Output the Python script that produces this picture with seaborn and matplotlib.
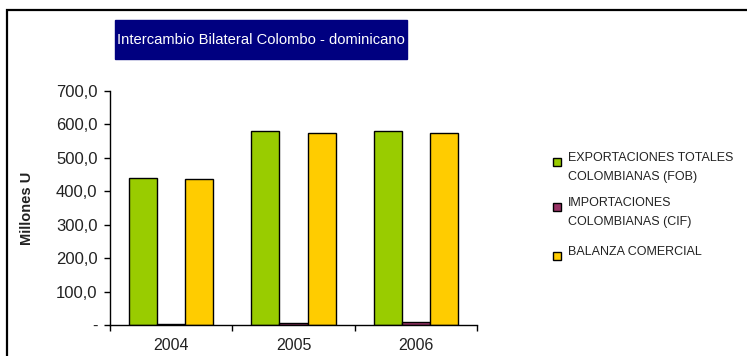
import matplotlib
matplotlib.use("Agg")
import matplotlib.pyplot as plt
from matplotlib.patches import Rectangle
import pandas as pd
import seaborn as sns

years = ["2004", "2005", "2006"]
series = [
    "EXPORTACIONES TOTALES\nCOLOMBIANAS (FOB)",
    "IMPORTACIONES\nCOLOMBIANAS (CIF)",
    "BALANZA COMERCIAL",
]
exportaciones = [440.5, 580.0, 580.0]
importaciones = [4.0, 5.0, 9.5]
balanza = [436.5, 575.0, 575.0]
colors = ["#99CC00", "#993366", "#FFCC00"]
yticks = [0, 100, 200, 300, 400, 500, 600, 700]
ytick_labels = ["-", "100,0", "200,0", "300,0", "400,0", "500,0", "600,0", "700,0"]

df = pd.DataFrame({
    "year": years * 3,
    "serie": [series[0]] * 3 + [series[1]] * 3 + [series[2]] * 3,
    "valor": exportaciones + importaciones + balanza,
})

sns.set_theme(style="white")
plt.rcParams["font.family"] = ["Liberation Sans", "DejaVu Sans"]

W, H = 747, 356
fig = plt.figure(figsize=(W / 100, H / 100), dpi=100)
ax = fig.add_axes([110 / W, 1 - 325 / H, (477 - 110) / W, (325 - 91) / H])

sns.barplot(data=df, x="year", y="valor", hue="serie", hue_order=series,
            palette=colors, width=0.69, edgecolor="black", linewidth=1.0,
            saturation=1, legend=False, ax=ax)

ax.set_ylim(0, 700)
ax.set_xlim(-0.5, 2.5)
ax.set_yticks(yticks)
ax.set_yticklabels(ytick_labels, fontsize=12, color="#222222")
ax.set_xticks(range(len(years)))
ax.set_xticklabels(years, fontsize=11.5, color="#222222")
ax.set_xticks([-0.5, 0.5, 1.5, 2.5], minor=True)
ax.tick_params(axis="x", which="major", length=0, pad=9)
ax.tick_params(axis="x", which="minor", length=4, width=1, color="black", direction="out", bottom=True)
ax.tick_params(axis="y", length=4, width=1, color="black", direction="out", left=True, pad=5)
ax.set_xlabel("")
ax.set_ylabel("")
for s in ["top", "right"]:
    ax.spines[s].set_visible(False)
for s in ["left", "bottom"]:
    ax.spines[s].set_color("black")
    ax.spines[s].set_linewidth(1.0)

fig.text(27 / W, 1 - 208 / H, "Millones U", rotation=90, ha="center", va="center",
         fontsize=10.5, fontweight="bold", color="#222222")

# outer frame, running off the right and bottom edges
fig.add_artist(Rectangle((7 / W, -0.2), 1.5, 0.2 + (1 - 10 / H),
                         transform=fig.transFigure, fill=False, edgecolor="black",
                         linewidth=1.6, zorder=0))

# title box
fig.add_artist(Rectangle((115 / W, 1 - 59 / H), (407 - 115) / W, 39 / H,
                         transform=fig.transFigure, facecolor="#000080", edgecolor="#000080",
                         zorder=1))
fig.text(261 / W, 1 - 40 / H, "Intercambio Bilateral Colombo - dominicano", ha="center",
         va="center", color="white", fontsize=10.6, zorder=5)

# legend
legend_y = [162, 207, 256]
for c, lab, yy in zip(colors, series, legend_y):
    fig.add_artist(Rectangle((553 / W, 1 - (yy + 4) / H), 8 / W, 8 / H, transform=fig.transFigure,
                             facecolor=c, edgecolor="black", linewidth=1.0))
    fig.text(568 / W, 1 - (yy - 10) / H, lab, ha="left", va="top", fontsize=9,
             color="#222222", linespacing=1.75)

fig.savefig("out.png", dpi=100)
